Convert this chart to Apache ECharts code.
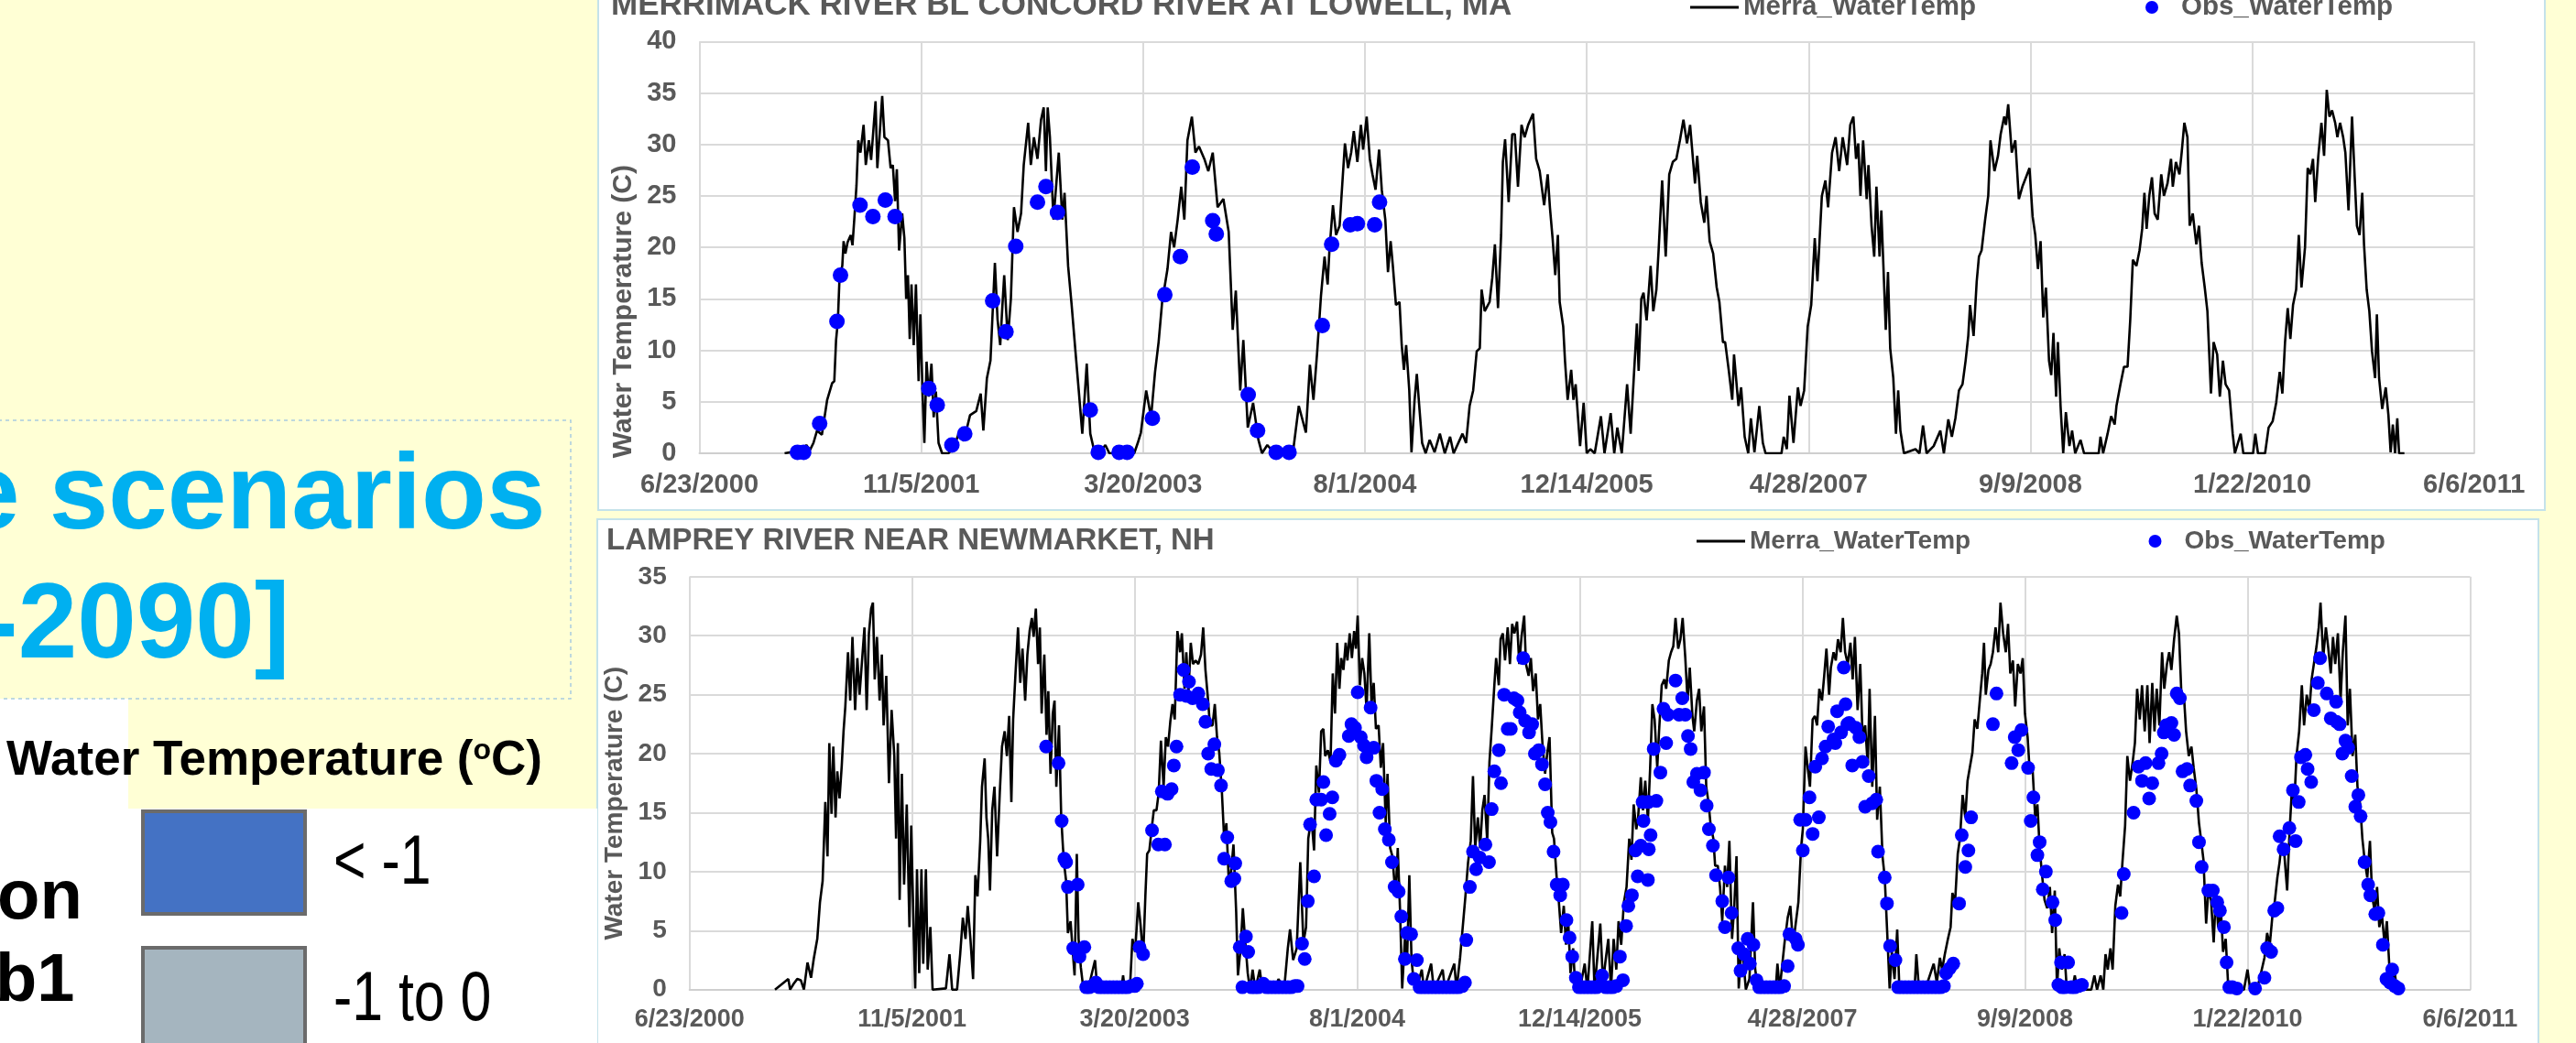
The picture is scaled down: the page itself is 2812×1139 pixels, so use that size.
<!DOCTYPE html>
<html>
<head>
<meta charset="utf-8">
<script src="https://cdn.jsdelivr.net/npm/echarts@6/dist/echarts.min.js"></script>
<style>
  html, body { margin: 0; padding: 0; background: #FFFFD5; }
  #chart { width: 2812px; height: 1139px; }
</style>
</head>
<body>
<div id="chart"></div>
<script>
// x values are days counted from 6/23/2000 (the first axis tick)
const xLabels = ['6/23/2000', '11/5/2001', '3/20/2003', '8/1/2004', '12/14/2005', '4/28/2007', '9/9/2008', '1/22/2010', '6/6/2011'];
const topTicks = [0, 5, 10, 15, 20, 25, 30, 35, 40];
const botTicks = [0, 5, 10, 15, 20, 25, 30, 35];

// MERRIMACK RIVER BL CONCORD RIVER AT LOWELL, MA
const topMerra = [[192,0],[233,0.3],[241,0.8],[249,0.3],[257,1.0],[265,2.2],[276,1.8],[288,5.2],[299,6.8],[304,7.0],[308,11],[312,12.8],[316,17.3],[322,18.2],[325,20.6],[329,19.4],[334,20.5],[341,21.2],[345,20.2],[349,22.7],[354,26],[358,30.4],[363,29.2],[370,31.9],[375,28],[382,30.4],[387,28.5],[397,34.2],[401,27.7],[408,32.1],[412,34.7],[417,30.7],[425,30.4],[431,27.7],[436,28],[441,24.5],[445,27.6],[450,19.7],[457,23.3],[462,20.9],[466,15],[470,17.3],[474,11.1],[478,16.4],[483,10.5],[488,16.4],[494,7],[498,13.5],[503,5.8],[507,1.0],[512,8.9],[517,5.5],[523,8.7],[528,3.5],[533,6],[539,1],[547,0],[561,0],[573,0.5],[585,2],[596,1.2],[610,3.7],[624,4.1],[634,5.8],[640,2.2],[648,7.3],[656,9],[662,14.7],[666,18.5],[672,13],[678,10.5],[683,14.4],[687,17.3],[695,11],[702,15],[709,23.9],[717,21.5],[725,23.3],[731,28],[741,32.1],[747,28],[754,30.7],[762,28.6],[770,32.4],[776,33.6],[781,27.4],[785,33.6],[790,30.7],[798,22.7],[810,29.2],[818,22.7],[823,25.3],[831,18.2],[839,14.4],[847,10.2],[855,6.1],[863,1.9],[873,8.7],[881,1.9],[889,0.4],[901,0],[915,0.8],[924,0],[980,0],[988,1],[995,2],[1007,6.1],[1018,3.5],[1027,7.9],[1035,10.8],[1043,14.7],[1055,17.9],[1063,21.5],[1070,20],[1078,22.7],[1086,25.9],[1093,22.7],[1100,30.4],[1110,32.7],[1118,29.2],[1126,29.8],[1138,28.6],[1147,27.4],[1157,29.2],[1168,23.9],[1181,24.7],[1193,21.5],[1202,12],[1209,15.8],[1219,6.1],[1226,11],[1236,2.5],[1248,4.9],[1260,1.3],[1268,0],[1280,0.8],[1296,0],[1339,0.5],[1351,4.6],[1367,2],
[1376,8.6],[1384,5.2],[1392,9.6],[1401,15.3],[1409,19.1],[1416,16.4],[1420,19.7],[1428,24.1],[1435,21.2],[1443,22.1],[1450,26.8],[1455,30.1],[1462,27.7],[1469,29.2],[1475,31.3],[1483,28.3],[1491,31.9],[1496,29.5],[1504,32.7],[1511,28.6],[1517,27.1],[1524,25.6],[1532,29.5],[1538,25.6],[1546,22.7],[1552,17.6],[1558,20.6],[1563,18.2],[1570,14.4],[1578,14.7],[1583,10.5],[1588,8.1],[1593,10.5],[1600,6.1],[1605,0.1],[1612,5.2],[1617,7.7],[1623,4.3],[1629,1],[1637,0],[1646,1.3],[1657,0.1],[1669,1.9],[1680,0],[1692,1.6],[1700,0],[1720,1.9],[1728,1],[1736,4.6],[1744,6.1],[1752,9.9],[1759,10.2],[1763,15.9],[1770,13.8],[1781,14.7],[1787,17],[1793,20.3],[1800,14.1],[1807,21.2],[1811,28.3],[1816,30.5],[1824,24.4],[1832,31],[1838,31],[1845,25.9],[1853,31.9],[1860,30.7],[1868,31.9],[1879,33],[1886,28.6],[1894,27.4],[1904,24.1],[1912,27.1],[1917,23.9],[1923,20.9],[1929,17.3],[1935,21.2],[1939,14.7],[1947,12.3],[1951,9],[1957,5.2],[1965,8.1],[1970,5.2],[1975,6.7],[1985,0.7],[1993,4.9],[2000,0],[2008,0.4],[2018,0],[2032,3.6],[2040,0],[2054,3.9],[2062,0],[2069,2.5],[2079,0],[2091,6.7],[2099,1.9],[2107,8.1],[2113,12.6],[2117,8],[2123,15],[2128,15.6],[2135,12.9],[2144,18.2],[2150,13.8],[2157,15.9],[2162,19.7],[2170,26.5],[2178,19.1],[2186,27.1],[2194,28.3],[2202,28.6],[2210,30.4],[2218,32.4],[2226,30.1],[2233,31.9],[2244,26.2],[2249,28.9],[2257,24.4],[2265,22.4],[2270,25],[2277,20.6],[2285,19.4],[2293,16.1],[2299,14.7],[2307,10.8],[2312,10.8],[2320,8.1],[2328,5.2],[2332,9.6],[2342,4.6],[2348,6.4],[2356,1.6],[2364,0],[2370,3.4],[2378,0.1],[2389,4.6],[2397,1],[2403,0],[2439,0],[2444,1.6],[2451,0.4],[2457,5.6],[2466,1],[2476,6.4],[2482,4.6],[2490,6.1],[2498,12.3],[2506,14.4],[2514,20.9],[2520,16.7],[2530,25],[2538,26.5],[2544,23.9],[2553,29.2],[2561,30.7],[2569,27.4],[2577,30.7],[2587,28],
[2594,31.9],[2601,32.7],[2607,28.6],[2612,30.1],[2617,25],[2623,30.4],[2631,24.7],[2635,28],[2642,22.1],[2648,19.1],[2653,25.9],[2660,19.1],[2664,23.6],[2670,16.7],[2674,12],[2679,17.6],[2684,10.2],[2691,7.3],[2697,1.9],[2702,6.1],[2707,2.2],[2715,0],[2741,0.4],[2750,0],[2758,2.7],[2766,0],[2782,0.7],[2797,2.2],[2805,0],[2815,3.3],[2823,1.6],[2831,3.4],[2839,6.1],[2847,6.7],[2854,9],[2860,11.4],[2864,14.4],[2872,11.4],[2879,16.7],[2884,19.1],[2890,19.7],[2898,22.7],[2905,25],[2910,30.4],[2919,27.4],[2927,28.9],[2933,31],[2941,32.7],[2945,31.9],[2950,33.9],[2958,29.2],[2966,30.4],[2974,24.7],[2982,25.9],[2990,26.8],[2998,27.7],[3005,23],[3011,21.2],[3017,17.9],[3023,20.6],[3029,13.2],[3035,16.1],[3042,9],[3047,7.6],[3052,11.7],[3058,5.5],[3062,10.8],[3068,4.6],[3074,0],[3080,4],[3088,0.7],[3094,2.2],[3101,0],[3113,1.3],[3121,0],[3154,0],[3158,1.6],[3164,0],[3174,1.9],[3182,3.6],[3190,2.8],[3194,4.6],[3203,6.7],[3211,8.4],[3219,8.4],[3225,12.9],[3231,18.8],[3239,18.2],[3246,19.7],[3252,21.8],[3257,25.3],[3262,21.8],[3268,25],[3274,26.8],[3280,23.3],[3287,22.7],[3295,27.1],[3301,25],[3309,26.2],[3317,28.6],[3321,25.9],[3328,28.3],[3336,27.1],[3341,29.2],[3347,32.1],[3354,30.7],[3359,22.1],[3366,23.3],[3374,20.3],[3380,22.1],[3386,18.5],[3393,16.1],[3399,13.8],[3407,5.8],[3413,10.8],[3421,9.6],[3427,5.5],[3434,9],[3440,6.7],[3448,6.1],[3456,1.9],[3461,0],[3474,1.9],[3480,0],[3502,0],[3507,1.9],[3513,0],[3529,0],[3537,2.5],[3546,3.1],[3554,4.9],[3562,7.9],[3568,5.8],[3574,10.8],[3580,14.1],[3586,11.1],[3592,14.4],[3599,15.9],[3605,21.2],[3611,16.1],[3619,20],[3625,27.7],[3631,27.1],[3637,28.6],[3642,24.4],[3649,28.9],[3656,32.1],[3662,28.9],[3668,35.3],[3674,32.7],[3680,33.3],[3687,32.1],[3692,30.7],[3698,32.1],[3705,30.7],[3710,29.2],[3717,23.6],[3725,32.7],[3731,26.8],[3736,22.1],[3742,21.2],[3748,25.3],[3752,20.3],[3758,15.9],[3764,13.8],[3770,9.9],[3777,7.3],[3781,13.5],[3786,7.3],[3793,4.3],[3801,6.4],[3807,3.7],[3812,0.1],[3817,2.8],[3822,0],[3827,3.4],[3831,0],[3843,0]];

const topObs = [[221,0.1],[235,0.1],[271,2.9],[310,12.8],[318,17.3],[362,24.1],[391,23],[419,24.6],[441,23],[517,6.3],[536,4.7],[569,0.8],[598,1.9],[661,14.8],[691,11.8],[713,20.1],[762,24.4],[781,25.9],[807,23.4],[881,4.2],[899,0.1],[946,0.1],[964,0.1],[1021,3.4],[1049,15.4],[1084,19.1],[1111,27.8],[1157,22.6],[1165,21.3],[1237,5.7],[1258,2.2],[1300,0.1],[1329,0.1],[1404,12.4],[1425,20.3],[1467,22.2],[1483,22.3],[1522,22.2],[1533,24.4]];

// LAMPREY RIVER NEAR NEWMARKET, NH
const botMerra = [[192,0],[222,0.9],[226,0],[234,0.5],[242,0.9],[250,0.8],[257,0],[265,2.3],[273,1],[279,2.6],[287,4.3],[293,7.4],[299,9.2],[305,15.9],[310,11.3],[314,20.9],[319,14.9],[323,20.6],[328,14.6],[332,18.5],[337,16.2],[342,19],[346,21.9],[350,24],[356,28.6],[361,24.5],[366,29.9],[372,23.7],[377,28.1],[382,25],[387,27.6],[393,30.7],[398,23.7],[403,30.2],[408,32.3],[412,32.8],[416,26.3],[421,29.9],[427,24.5],[432,28.4],[436,22.4],[442,26.6],[448,17.5],[454,23.7],[460,19.8],[464,12.8],[468,20.9],[472,7.6],[477,18.3],[482,8.9],[488,15.7],[494,5.3],[498,13.9],[504,4.3],[507,0.1],[511,10.2],[516,1.4],[521,10.2],[525,2.2],[531,10.2],[535,1.7],[541,5.3],[546,0],[576,0.1],[584,3],[590,0],[601,0],[608,3],[614,6.1],[620,4.3],[625,7.1],[631,4.3],[637,0.9],[642,9.7],[647,7.9],[653,12.6],[657,17.2],[663,19.6],[667,14.6],[671,12.8],[675,8.4],[680,15.2],[685,17.2],[691,11.3],[697,16.7],[702,20.6],[708,21.9],[713,19.8],[718,23.2],[723,15.9],[727,22.9],[732,26.6],[738,30.7],[743,26],[748,28.9],[754,24.5],[759,28.4],[764,30.4],[769,31.5],[773,29.9],[778,32.3],[783,27.6],[787,30.7],[791,23.4],[797,28.4],[802,21.6],[806,25.3],[811,18.3],[816,23.4],[820,24.5],[824,17.2],[830,22.4],[835,14.6],[839,12],[842,10.5],[846,9.2],[850,4.8],[856,5.8],[861,3.2],[865,1.2],[870,11.5],[874,4.3],[879,1.9],[885,0],[899,0.6],[911,2.5],[916,0],[970,0],[974,1.2],[978,0],[990,0.6],[995,4.3],[1001,3.2],[1008,7.4],[1013,5.6],[1019,2.7],[1024,7.9],[1028,11.5],[1033,11.8],[1039,13.9],[1043,15.2],[1049,15.2],[1054,16.7],[1059,21.1],[1065,17.2],[1070,21.4],[1075,20.6],[1080,22.7],[1085,24.2],[1090,22.9],[1096,30.4],[1102,28.6],[1106,30.2],[1112,25.5],[1116,28.6],[1121,25.3],[1126,29.4],[1131,27.6],[1137,27.9],[1143,27.6],[1149,28.4],[1154,30.7],[1159,27.1],[1165,24.5],[1169,22.4],[1175,22.4],[1180,24.2],[1185,21.4],[1190,20.1],[1196,16.7],[1201,12.8],[1206,14.1],[1212,8.7],[1217,10.2],[1222,12.3],[1228,6.6],[1232,1.2],[1238,3.5],[1243,6.9],[1248,4.3],[1254,1.4],[1259,0],[1265,1.7],[1271,0],[1281,1.7],[1287,0],[1316,0],[1323,0.9],[1336,0.1],[1344,3.5],[1349,5.1],[1356,2.5],[1364,3.5],[1372,10.8],
[1379,4],[1385,5.3],[1390,12.8],[1397,14.6],[1403,11.8],[1408,19],[1414,16.7],[1419,21.9],[1424,22.1],[1428,19.8],[1434,20.3],[1440,19.3],[1445,26.8],[1450,23.4],[1455,29.4],[1460,25.5],[1464,28.1],[1469,27.1],[1474,29.4],[1478,27.9],[1483,30.2],[1488,28.1],[1493,30.4],[1497,28.9],[1501,31.7],[1506,25.8],[1511,28.1],[1516,26.8],[1521,23.7],[1527,30.2],[1532,24.2],[1537,26],[1542,22.1],[1548,22.4],[1553,18.8],[1558,20.9],[1564,14.1],[1568,18.3],[1574,12],[1579,11.3],[1586,7.9],[1591,12],[1596,6.9],[1601,0.1],[1607,4.3],[1612,2.5],[1617,9.7],[1622,2.5],[1627,0.6],[1633,0],[1645,1.7],[1650,0],[1666,2.2],[1672,0],[1692,1.7],[1697,0],[1718,2.2],[1723,0],[1731,2.7],[1737,5.3],[1743,7.9],[1749,10.8],[1755,12.6],[1760,18.1],[1765,12],[1771,14.6],[1776,12],[1781,15.2],[1786,16.5],[1792,12.6],[1797,19.3],[1802,22.1],[1808,25.8],[1812,28.1],[1818,25.8],[1822,29.7],[1827,30.2],[1832,27.9],[1838,30.7],[1843,27.6],[1848,31],[1853,30.2],[1859,31.2],[1864,27.6],[1869,29.9],[1875,31.7],[1879,27.6],[1885,26.6],[1890,28.1],[1895,25.3],[1901,26.8],[1906,22.9],[1911,24.2],[1916,20.9],[1922,18.3],[1927,20.1],[1932,21.4],[1938,13.3],[1942,12.8],[1948,9.5],[1953,7.4],[1958,4.8],[1964,7.1],[1969,3.8],[1974,5.8],[1979,1.4],[1985,3.5],[1990,0],[2003,0.6],[2011,2.2],[2017,0],[2028,5.8],[2033,0],[2046,5.6],[2052,0.6],[2058,2.5],[2064,4.3],[2070,0],[2076,4.3],[2082,1.7],[2087,5.8],[2093,3.8],[2099,7.4],[2105,8.7],[2111,12.8],[2116,11],[2121,15.7],[2127,13.6],[2131,14.6],[2137,18],[2142,15.2],[2147,17.7],[2153,14.4],[2158,18.8],[2163,24.2],[2168,22.9],[2174,18.8],[2178,21.9],[2184,25.8],[2190,26.3],[2194,25.5],[2200,27.9],[2205,28.6],[2210,29.1],[2215,31.5],[2221,28.9],[2226,29.7],[2231,31.5],[2237,28.1],[2242,24.5],[2247,27.3],[2253,23.2],[2257,21.9],[2263,24.5],[2268,25.5],[2273,21.9],[2279,24],[2284,17.2],[2289,15.9],[2294,13.9],[2300,12.8],[2304,10.5],[2310,10.5],[2315,8.7],[2320,5.8],[2326,10.5],[2331,8.7],[2336,12.6],[2342,4.3],[2347,7.1],[2352,11.3],[2357,0.1],[2363,3.5],[2367,2.7],[2373,0],[2381,0.9],[2389,7.4],[2394,1.7],[2401,0],[2440,0],[2444,2.2],[2449,0],[2460,4],[2467,6.1],[2473,7.1],[2479,3.8],[2485,5.6],[2491,7.4],[2497,12],[2501,13.6],[2507,20.6],[2512,18.8],[2517,17.2],[2523,22.9],[2528,23.2],[2533,22.4],[2538,25.5],[2544,24.5],[2549,26.6],[2554,28.9],[2560,25],[2564,27.3],[2570,28.6],[2575,27.9],[2580,29.7],[2586,28.6],[2591,31.5],[2596,28.6],
[2602,27.6],[2608,29.4],[2613,26.3],[2618,29.9],[2624,23.7],[2630,27.6],[2635,21.6],[2641,22.4],[2647,19],[2651,25.5],[2657,17.2],[2663,23.2],[2668,14.4],[2674,17.2],[2680,11.3],[2685,9.5],[2690,5.3],[2696,0.1],[2701,3.2],[2707,0.9],[2713,5.1],[2718,0],[2752,0],[2756,3],[2762,0],[2781,0.6],[2795,2.2],[2802,0.6],[2809,2.7],[2814,1.7],[2820,3],[2827,4.3],[2833,5.3],[2837,8.2],[2843,7.4],[2849,11.5],[2854,12.8],[2860,16.5],[2866,14.6],[2871,17.7],[2876,18.8],[2882,20.1],[2887,22.9],[2893,22.1],[2899,24.7],[2904,26.8],[2908,29.4],[2912,25],[2918,27.1],[2923,27.6],[2928,28.6],[2934,30.7],[2940,28.6],[2945,32.8],[2951,30.2],[2957,28.6],[2962,31],[2967,26.8],[2973,27.9],[2978,24],[2984,27.6],[2990,26.8],[2995,28.1],[3000,23.4],[3006,21.4],[3011,18.3],[3017,18.8],[3023,14.6],[3028,15.7],[3033,12],[3039,9.5],[3044,7.6],[3050,6.9],[3056,8.7],[3061,4.8],[3067,8.4],[3072,0.1],[3077,3.5],[3083,1.7],[3089,3],[3094,0],[3100,0.6],[3106,0],[3112,1.2],[3118,0],[3149,0],[3156,1.2],[3162,0],[3170,1.2],[3176,0],[3181,3],[3186,1.7],[3192,3.5],[3197,1.7],[3203,7.1],[3209,8.9],[3214,7.9],[3219,10.8],[3225,13.9],[3230,19.8],[3236,17.7],[3242,19.3],[3247,20.9],[3252,25.5],[3258,22.9],[3263,25.8],[3269,21.9],[3275,25.8],[3280,20.9],[3286,26],[3291,21.9],[3296,25.5],[3302,22.4],[3308,28.6],[3313,25.5],[3319,27.6],[3324,28.6],[3329,27.1],[3335,29.7],[3341,31.7],[3346,30.2],[3352,24.5],[3357,25],[3362,21.9],[3368,19.8],[3374,20.6],[3379,18.8],[3385,17],[3391,14.1],[3396,12.6],[3401,11],[3407,5.6],[3412,8.4],[3418,7.6],[3424,4],[3429,8.2],[3434,5.3],[3440,6.9],[3445,3.2],[3451,4.3],[3457,0],[3472,0.6],[3480,0],[3492,0],[3500,1.7],[3506,0],[3521,0],[3529,1.2],[3538,2.7],[3544,4.8],[3550,3.8],[3556,6.3],[3561,7.4],[3567,9.5],[3572,10.8],[3577,12.6],[3583,11.3],[3589,8.4],[3594,13.1],[3600,17.2],[3605,15.7],[3610,19.8],[3616,21.9],[3622,25.8],[3627,22.4],[3633,25],[3639,23.7],[3644,26.3],[3649,27.6],[3655,29.1],[3660,30.7],[3664,32.8],[3670,28.1],[3676,30.7],[3681,29.1],[3687,26.8],[3692,29.9],[3697,27.6],[3703,30.2],[3709,24.5],[3714,28.6],[3720,31.7],[3725,22.4],[3730,25.5],[3736,19.8],[3742,21.6],[3747,17.2],[3753,15.7],[3758,12.8],[3763,11],[3769,9.5],[3775,12.6],[3780,7.9],[3786,6.6],[3791,8.7],[3796,5.3],[3802,6.3],[3808,3.8],[3813,5.8],[3819,1.7],[3825,0],[3830,1.8],[3835,0],[3843,0]];

const botObs = [[801,20.6],[829,19.2],[836,14.3],[842,11.1],[846,10.8],[850,8.7],[862,3.5],[872,8.9],[876,2.8],[887,3.6],
[891,0.2],[898,0.2],[905,0.3],[913,0.6],[920,0.2],[928,0.2],[936,0.2],[944,0.2],[952,0.2],[960,0.2],[968,0.2],[976,0.2],[984,0.2],[992,0.3],[1000,0.3],[1005,0.5],
[1011,3.6],[1019,3],[1039,13.5],[1053,12.3],[1061,16.8],[1068,12.3],[1074,16.6],[1083,17],[1088,19],[1094,20.6],[1102,25],[1110,27.1],[1116,24.9],[1122,26.1],[1130,24.7],[1143,25.1],[1153,24.2],[1159,22.7],[1165,20],[1172,18.7],[1179,20.8],[1187,18.6],[1194,17.3],[1201,11.1],[1208,12.9],[1217,9.2],[1224,9.4],[1226,10.7],[1236,3.6],[1242,0.2],[1250,4.5],[1255,3.2],
[1262,0.2],[1270,0.2],[1278,0.2],[1289,0.5],[1296,0.2],[1304,0.2],[1312,0.2],[1320,0.2],[1328,0.2],[1336,0.2],[1344,0.2],[1352,0.2],[1360,0.3],[1366,0.3],
[1376,3.9],[1382,2.6],[1389,7.5],[1394,14],[1403,9.6],[1408,16.1],[1419,16.1],[1424,17.6],[1430,13.1],[1438,14.9],[1444,16.3],[1452,19.4],[1460,19.9],[1481,21.5],[1487,22.5],[1495,22.2],[1501,25.2],[1508,21.4],[1515,20.7],[1521,19.7],[1530,23.9],[1537,20.5],[1543,17.7],[1550,15],[1556,17],[1562,13.6],[1571,12.7],[1578,10.8],[1584,8.7],[1593,8.3],[1599,6.2],[1607,2.6],[1612,4.8],[1621,4.7],[1627,0.9],[1634,2.5],
[1640,0.2],[1648,0.2],[1656,0.2],[1664,0.2],[1672,0.2],[1680,0.2],[1688,0.2],[1696,0.2],[1704,0.2],[1712,0.2],[1720,0.2],[1728,0.2],[1736,0.3],[1742,0.6],
[1745,4.2],[1753,8.7],[1760,11.7],[1767,10.2],[1775,11.2],[1788,12.3],[1796,10.8],[1802,15.3],[1808,18.5],[1818,20.3],[1823,17.5],[1830,25],[1838,22.1],[1845,22.1],[1852,24.7],[1860,24.5],[1865,23.5],[1873,28.1],[1877,22.8],[1886,21.8],[1893,22.5],[1899,20],[1908,20.3],[1915,19.1],[1922,17.4],[1928,15],[1934,14.2],[1941,11.7],[1948,8.9],[1956,8],[1962,8.9],[1970,5.9],[1977,4.4],[1983,2.8],[1991,1],
[1998,0.2],[2006,0.2],[2014,0.2],[2022,0.2],[2030,0.2],[2038,0.2],[2044,0.3],[2050,1.2],[2058,0.2],[2066,0.2],[2074,0.2],[2082,0.3],[2090,2.8],[2097,0.8],
[2104,5.4],[2109,7.1],[2117,8],[2125,11.8],[2130,9.6],[2137,12.2],[2141,15.9],[2143,14.3],[2153,9.3],[2154,15.9],[2155,11.9],[2159,13.1],[2166,20.4],[2172,16],[2181,18.4],[2188,23.8],[2194,20.9],[2198,23.3],[2215,26.2],[2223,23.3],[2230,24.7],[2237,23.3],[2243,21.5],[2249,20.4],[2255,17.6],[2263,18.3],[2271,16.9],[2279,18.4],[2285,15.6],[2290,13.6],[2299,12.2],[2306,9.7],[2320,7.5],[2326,5.3],[2334,9.5],[2341,6.5],[2356,3.5],[2361,1.6],[2369,3],[2377,4.3],[2382,2.2],[2390,3.8],[2397,0.8],
[2403,0.2],[2411,0.2],[2419,0.2],[2427,0.2],[2435,0.2],[2443,0.2],[2451,0.2],[2459,0.3],
[2467,2],[2471,4.7],[2485,4.3],[2490,3.8],[2495,14.4],[2501,11.8],[2507,14.4],[2516,16.3],[2523,13.2],[2529,18.9],[2537,14.6],[2544,19.6],[2552,20.6],[2558,22.3],[2570,21.2],[2574,20.9],[2578,23.6],[2587,21.8],[2593,27.3],[2597,24.2],[2601,22.5],
[2605,22.6],[2612,19],[2620,22.2],[2628,21.4],[2635,19.3],[2641,15.5],[2649,18.1],[2657,15.8],[2666,16.1],[2670,11.7],[2685,9.5],[2690,7.3],[2697,3.7],[2709,2.5],
[2715,0.2],[2723,0.2],[2731,0.2],[2739,0.2],[2747,0.2],[2755,0.2],[2763,0.2],[2771,0.2],[2779,0.2],[2787,0.2],[2795,0.2],[2803,0.2],[2811,0.2],[2818,0.3],
[2823,1.4],[2831,1.8],[2839,2.2],[2852,7.3],[2858,13.1],[2866,10.4],[2873,11.8],[2879,14.6],[2928,22.5],[2936,25.1],[2970,19.2],[2977,21.4],[2985,20.3],[2992,22],[3007,18.8],[3013,14.3],[3019,16.3],[3028,11.4],[3033,12.5],[3040,8.5],[3047,10],[3062,7.4],[3068,5.9],[3075,0.4],[3081,2.3],[3097,2.3],
[3083,0.2],[3090,0.2],[3104,0.2],[3112,0.2],[3120,0.3],[3128,0.4],
[3217,6.5],[3222,9.8],[3244,15],[3255,18.9],[3263,17.7],[3271,19.2],[3279,16.2],[3286,17.5],[3300,19.2],[3307,20],[3312,21.8],[3317,22.4],[3329,22.6],[3335,21.6],[3341,25.1],[3348,24.7],[3354,18.5],[3364,18.7],[3371,17.3],[3385,16],[3391,12.5],[3397,10.4],[3412,8.4],[3422,8.4],[3432,7.4],[3438,6.7],[3447,5.3],[3453,2.3],[3459,0.2],[3466,0.2],[3476,0.1],[3517,0.1],[3538,1],[3544,3.5],[3553,3.2],[3560,6.7],[3567,6.9],[3572,13],[3581,11.9],[3594,13.7],[3602,16.9],[3608,12.6],[3615,15.9],[3620,19.7],[3630,19.9],[3635,18.7],[3643,17.6],[3649,23.7],[3658,26],[3663,28.1],[3678,25.1],[3687,23],[3699,24.4],[3700,22.7],[3707,22.5],[3713,20],[3720,21.1],[3726,20.5],[3734,18.1],[3742,15.5],[3749,16.5],[3754,14.7],[3763,10.8],[3771,8.9],[3776,8],[3787,6.4],[3794,6.5],[3804,3.8],[3812,0.9],[3820,0.6],[3825,1.7],[3831,0.3],[3839,0.1]];

const FONT = "'Liberation Sans', Arial, Helvetica, sans-serif";
const GRAY = '#595959';

let myChart = echarts.init(document.getElementById('chart'), null, {renderer: 'canvas'});

function xAxisOf(idx, fs, margin) {
    return {
        gridIndex: idx, type: 'value', min: 0, max: 4000, interval: 500,
        axisLine: {show: true, lineStyle: {color: '#cfcfcf', width: 2}},
        axisTick: {show: false},
        splitLine: {show: true, lineStyle: {color: '#dadada', width: 2}},
        axisLabel: {
            margin: margin, fontSize: fs, fontWeight: 'bold', color: GRAY, fontFamily: FONT,
            showMinLabel: true, showMaxLabel: true, hideOverlap: false,
            formatter: function (v) { return xLabels[Math.round(v / 500)]; }
        }
    };
}
function yAxisOf(idx, ticks, fs, nameFs, gap, shift) {
    return {
        gridIndex: idx, type: 'value', min: 0, max: ticks[ticks.length - 1], interval: 5,
        name: 'Water Temperature (C)', nameLocation: 'middle', nameGap: gap, nameRotate: 90,
        nameTextStyle: {fontSize: nameFs, fontWeight: 'bold', color: GRAY, fontFamily: FONT, padding: [0, shift, 0, 0]},
        axisLine: {show: false}, axisTick: {show: false},
        splitLine: {show: true, lineStyle: {color: '#dadada', width: 2}},
        axisLabel: {margin: 25, fontSize: fs, fontWeight: 'bold', color: GRAY, fontFamily: FONT}
    };
}
// one legend per entry so the line key can be a plain bar and the dot key a circle
function legendOf(name, icon, left, top, w, h, fs, textGap) {
    return {
        left: left, top: top, padding: 0, itemWidth: w, itemHeight: h, icon: icon,
        selectedMode: false, data: [name],
        textStyle: {fontSize: fs, fontWeight: 'bold', color: GRAY, fontFamily: FONT, padding: [0, 0, 0, textGap]}
    };
}

let option = {
    animation: false,
    backgroundColor: '#FFFFD5',
    title: [
        {text: 'MERRIMACK RIVER BL CONCORD RIVER AT LOWELL, MA', left: 667, top: -11, padding: 0,
         textStyle: {fontSize: 35, fontWeight: 'bold', color: GRAY, fontFamily: FONT}},
        {text: 'LAMPREY RIVER NEAR NEWMARKET, NH', left: 662, top: 574, padding: 0,
         textStyle: {fontSize: 33, fontWeight: 'bold', color: GRAY, fontFamily: FONT}}
    ],
    legend: [
        legendOf('Merra_WaterTemp', 'rect', 1845, -7, 53, 3, 29.5, 0),
        legendOf('Obs_WaterTemp', 'circle', 2342, -7, 14, 14, 29.5, 20),
        legendOf('Merra_WaterTemp', 'rect', 1852, 577, 53, 3, 28, 0),
        legendOf('Obs_WaterTemp', 'circle', 2345.5, 577, 14, 14, 28, 20)
    ],
    grid: [
        {left: 763.5, top: 45.3, width: 1937.2, height: 449.7, outerBoundsMode: 'none'},
        {left: 752.7, top: 629.8, width: 1943.7, height: 450.9, outerBoundsMode: 'none'}
    ],
    xAxis: [xAxisOf(0, 29, 20.5), xAxisOf(1, 27, 19.5)],
    yAxis: [yAxisOf(0, topTicks, 29, 30, 66, 140), yAxisOf(1, botTicks, 28, 28, 62, 44)],
    graphic: [
        // white chart panels and white strips of the slide
        {type: 'rect', z: -10, shape: {x: 653, y: -5, width: 2125, height: 562},
         style: {fill: '#ffffff', stroke: '#C4E2EA', lineWidth: 2}},
        {type: 'rect', z: -10, shape: {x: 652, y: 567, width: 2119, height: 580},
         style: {fill: '#ffffff', stroke: '#C4E2EA', lineWidth: 2}},
        {type: 'rect', z: -10, shape: {x: -5, y: 883, width: 657, height: 260}, style: {fill: '#ffffff'}},
        {type: 'rect', z: -10, shape: {x: -5, y: 763, width: 145, height: 125}, style: {fill: '#ffffff'}},
        {type: 'rect', z: -9, shape: {x: -10, y: 459, width: 633, height: 304},
         style: {fill: null, stroke: '#A9CCE0', lineWidth: 1.5, lineDash: [4, 4]}},
        // slide text
        {type: 'text', x: -43, y: 545, style: {text: 'e scenarios', fill: '#00B0F0', fontSize: 116, fontWeight: 'bold', fontFamily: FONT, verticalAlign: 'middle'}},
        {type: 'text', x: -19, y: 686, style: {text: '-2090]', fill: '#00B0F0', fontSize: 116, fontWeight: 'bold', fontFamily: FONT, verticalAlign: 'middle'}},
        {type: 'text', x: 7, y: 831, style: {
            text: '{a|Water Temperature (}{s|o}{a|C)}', verticalAlign: 'middle',
            rich: {
                a: {fontSize: 53, fontWeight: 'bold', fill: '#000', fontFamily: FONT},
                s: {fontSize: 32, fontWeight: 'bold', fill: '#000', fontFamily: FONT, verticalAlign: 'top'}
            }}},
        {type: 'text', x: -3, y: 982, style: {text: 'on', fill: '#000', fontSize: 76, fontWeight: 'bold', fontFamily: FONT, verticalAlign: 'middle'}},
        {type: 'text', x: -5, y: 1073, style: {text: 'b1', fill: '#000', fontSize: 74, fontWeight: 'bold', fontFamily: FONT, verticalAlign: 'middle'}},
        // colour legend of the map
        {type: 'rect', shape: {x: 156, y: 886, width: 177, height: 112},
         style: {fill: '#4472C4', stroke: '#6B6B6B', lineWidth: 4}},
        {type: 'rect', shape: {x: 156, y: 1035, width: 177, height: 112},
         style: {fill: '#A5B5BF', stroke: '#6B6B6B', lineWidth: 4}},
        {type: 'text', x: 364, y: 944, scaleX: 0.8, style: {text: '< -1', fill: '#000', fontSize: 76, fontFamily: FONT, verticalAlign: 'middle'}},
        {type: 'text', x: 364, y: 1093, scaleX: 0.8, style: {text: '-1 to 0', fill: '#000', fontSize: 76, fontFamily: FONT, verticalAlign: 'middle'}}
    ],
    series: [
        {name: 'Merra_WaterTemp', type: 'line', xAxisIndex: 0, yAxisIndex: 0, data: topMerra,
         symbol: 'none', lineStyle: {color: '#000', width: 2.6}, itemStyle: {color: '#000'}, z: 2},
        {name: 'Obs_WaterTemp', type: 'scatter', xAxisIndex: 0, yAxisIndex: 0, data: topObs,
         symbolSize: 17, itemStyle: {color: '#0000FF', opacity: 1}, z: 3},
        {name: 'Merra_WaterTemp', type: 'line', xAxisIndex: 1, yAxisIndex: 1, data: botMerra,
         symbol: 'none', lineStyle: {color: '#000', width: 2.6}, itemStyle: {color: '#000'}, z: 2},
        {name: 'Obs_WaterTemp', type: 'scatter', xAxisIndex: 1, yAxisIndex: 1, data: botObs,
         symbolSize: 15, itemStyle: {color: '#0000FF', opacity: 1}, z: 3}
    ]
};
myChart.setOption(option);
</script>
</body>
</html>
